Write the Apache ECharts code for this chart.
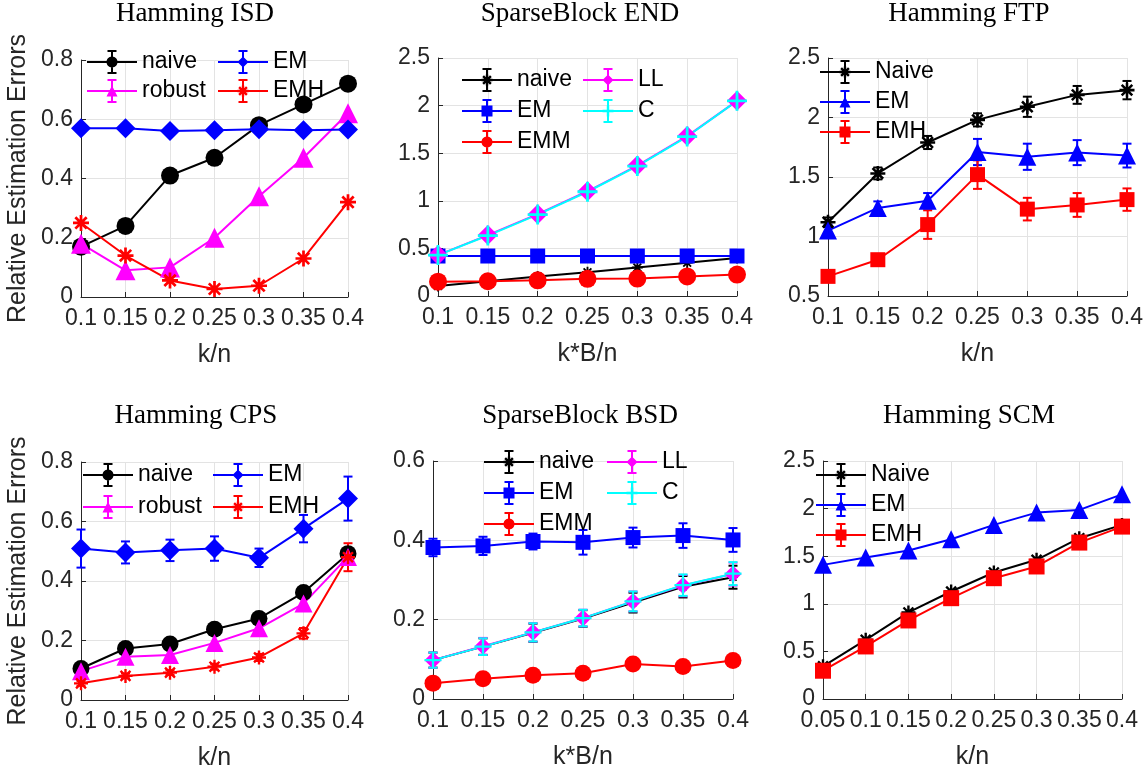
<!DOCTYPE html>
<html>
<head>
<meta charset="utf-8">
<script src="https://cdn.jsdelivr.net/npm/echarts@6/dist/echarts.min.js"></script>
<style>html,body{margin:0;padding:0;background:#fff}#c{width:1148px;height:772px}</style>
</head>
<body>
<div id="c"></div>
<script>
// ---------- data ----------
const kn7 = ['0.1', '0.15', '0.2', '0.25', '0.3', '0.35', '0.4'];
const kn8 = ['0.05', '0.1', '0.15', '0.2', '0.25', '0.3', '0.35', '0.4'];

// Hamming ISD
const isdNaive  = [0.17, 0.24, 0.41, 0.47, 0.58, 0.65, 0.72];
const isdRobust = [0.18, 0.09, 0.10, 0.20, 0.34, 0.47, 0.62];
const isdEM     = [0.57, 0.57, 0.56, 0.563, 0.566, 0.563, 0.565];
const isdEMH    = [0.25, 0.14, 0.056, 0.027, 0.038, 0.13, 0.32];

// SparseBlock END
const endNaive = [0.105, 0.155, 0.205, 0.25, 0.30, 0.35, 0.40];
const endEM    = [0.42, 0.42, 0.42, 0.42, 0.42, 0.42, 0.42];
const endEMM   = [0.15, 0.155, 0.165, 0.18, 0.183, 0.205, 0.225];
const endLL    = [0.43, 0.64, 0.86, 1.10, 1.37, 1.68, 2.05];
const endC     = [0.43, 0.635, 0.855, 1.095, 1.365, 1.675, 2.05];

// Hamming FTP
const ftpNaive    = [1.12, 1.53, 1.79, 1.98, 2.09, 2.19, 2.23];
const ftpNaiveErr = [0.04, 0.05, 0.055, 0.055, 0.085, 0.075, 0.077];
const ftpEM       = [1.05, 1.24, 1.30, 1.71, 1.67, 1.705, 1.68];
const ftpEMErr    = [0.05, 0.055, 0.065, 0.11, 0.11, 0.105, 0.10];
const ftpEMH      = [0.665, 0.805, 1.10, 1.52, 1.23, 1.265, 1.31];
const ftpEMHErr   = [0.03, 0.03, 0.12, 0.12, 0.095, 0.10, 0.094];

// Hamming CPS
const cpsNaive  = [0.106, 0.173, 0.188, 0.238, 0.274, 0.361, 0.492];
const cpsRobust = [0.097, 0.145, 0.151, 0.192, 0.241, 0.324, 0.481];
const cpsEM     = [0.509, 0.496, 0.503, 0.509, 0.478, 0.576, 0.677];
const cpsEMErr  = [0.064, 0.037, 0.036, 0.041, 0.031, 0.046, 0.074];
const cpsEMH    = [0.056, 0.081, 0.092, 0.112, 0.143, 0.224, 0.48];
const cpsEMHErr = [0.008, 0.008, 0.008, 0.01, 0.012, 0.018, 0.047];

// SparseBlock BSD
const bsdNaive    = [0.098, 0.132, 0.167, 0.203, 0.243, 0.283, 0.307];
const bsdNaiveErr = [0.019, 0.021, 0.023, 0.021, 0.025, 0.027, 0.029];
const bsdEM       = [0.382, 0.386, 0.397, 0.395, 0.407, 0.412, 0.401];
const bsdEMErr    = [0.022, 0.023, 0.02, 0.031, 0.025, 0.031, 0.03];
const bsdEMM      = [0.040, 0.051, 0.060, 0.065, 0.088, 0.082, 0.097];
const bsdLL       = [0.098, 0.133, 0.168, 0.204, 0.246, 0.286, 0.315];
const bsdLLErr    = [0.019, 0.021, 0.023, 0.021, 0.025, 0.027, 0.029];
const bsdC        = [0.098, 0.132, 0.168, 0.204, 0.246, 0.287, 0.316];
const bsdCErr     = [0.019, 0.021, 0.023, 0.021, 0.025, 0.027, 0.029];

// Hamming SCM
const scmNaive = [0.343, 0.622, 0.909, 1.129, 1.329, 1.462, 1.689, 1.829];
const scmEM    = [1.409, 1.486, 1.559, 1.678, 1.829, 1.958, 1.986, 2.150];
const scmEMH   = [0.297, 0.552, 0.825, 1.059, 1.269, 1.392, 1.643, 1.811];

// ---------- styling helpers ----------
const SANS = "'Liberation Sans', Arial, Helvetica, sans-serif";
const SERIF = "'Liberation Serif', 'Times New Roman', serif";
const AX = '#262626';
const GRIDC = '#e3e3e3';
const BLACK = '#000000', BLUE = '#0000ff', RED = '#ff0000', MAG = '#ff00ff', CYAN = '#00ffff';

function poly(pts) {
  let a = 0;
  for (let i = 0; i < pts.length; i++) {
    const p = pts[i], q = pts[(i + 1) % pts.length];
    a += p[0] * q[1] - q[0] * p[1];
  }
  if (a < 0) pts = pts.slice().reverse();
  return 'M' + pts.map(p => p[0].toFixed(3) + ' ' + p[1].toFixed(3)).join('L') + 'Z';
}
function rect(x0, y0, x1, y1) { return poly([[x0, y0], [x1, y0], [x1, y1], [x0, y1]]); }
function bar(cx, cy, half, t, ang) {
  const ux = Math.cos(ang), uy = Math.sin(ang), nx = -uy, ny = ux;
  const p1 = [cx - half * ux, cy - half * uy], p2 = [cx + half * ux, cy + half * uy];
  return poly([[p1[0] - t * nx, p1[1] - t * ny], [p2[0] - t * nx, p2[1] - t * ny],
               [p2[0] + t * nx, p2[1] + t * ny], [p1[0] + t * nx, p1[1] + t * ny]]);
}
function shape(kind, cx, cy, s, t) {
  const h = s / 2;
  switch (kind) {
    case 'circle': {
      const pts = [];
      for (let i = 0; i < 28; i++) { const a = i / 28 * Math.PI * 2; pts.push([cx + h * Math.cos(a), cy + h * Math.sin(a)]); }
      return poly(pts);
    }
    case 'diamond': return poly([[cx, cy - h], [cx + h, cy], [cx, cy + h], [cx - h, cy]]);
    case 'triangle': return poly([[cx, cy - h], [cx + h, cy + h], [cx - h, cy + h]]);
    case 'square': return rect(cx - h, cy - h, cx + h, cy + h);
    case 'plus': return bar(cx, cy, h, t, 0) + bar(cx, cy, h, t, Math.PI / 2);
    case 'star': return bar(cx, cy, h, t, 0) + bar(cx, cy, h, t, Math.PI / 2) +
                        bar(cx, cy, h, t, Math.PI / 4) + bar(cx, cy, h, t, 3 * Math.PI / 4);
  }
}
function markerSym(kind) {
  if (kind === 'circle' || kind === 'diamond' || kind === 'triangle') return kind;
  if (kind === 'square') return 'rect';
  return 'path://' + shape(kind, 10, 10, 20, kind === 'star' ? 1.7 : 1.4);
}
function legendIcon(kind, ms) {
  const p = rect(0, 11, 50, 13) + rect(24, 0, 26, 24) + rect(20.5, 0, 29.5, 2) + rect(20.5, 22, 29.5, 24) +
            shape(kind, 25, 12, ms || 10, 1.2);
  return 'path://' + p;
}

// ---------- panels ----------
const panels = [
  { title: 'Hamming ISD', tx: 195, ty: 14, grid: { left: 81, top: 60, width: 267, height: 237 },
    cats: kn7, xname: 'k/n', yname: 'Relative Estimation Errors', min: 0, max: 0.8, step: 0.2,
    series: [
      { n: 'naive', d: isdNaive, c: BLACK, m: 'circle', s: 18 },
      { n: 'robust', d: isdRobust, c: MAG, m: 'triangle', s: 20 },
      { n: 'EM', d: isdEM, c: BLUE, m: 'diamond', s: 20 },
      { n: 'EMH', d: isdEMH, c: RED, m: 'star', s: 16 }],
    legends: [{ left: 87, top: 50, gap: 5, items: ['naive', 'robust'] }, { left: 218, top: 50, gap: 5, items: ['EM', 'EMH'] }] },
  { title: 'SparseBlock END', tx: 580, ty: 14, grid: { left: 438, top: 58, width: 299, height: 238 },
    cats: kn7, xname: 'k*B/n', min: 0, max: 2.5, step: 0.5,
    series: [
      { n: 'naive', d: endNaive, c: BLACK, m: 'star', s: 11 },
      { n: 'EM', d: endEM, c: BLUE, m: 'square', s: 15 },
      { n: 'EMM', d: endEMM, c: RED, m: 'circle', s: 18 },
      { n: 'LL', d: endLL, c: MAG, m: 'diamond', s: 20 },
      { n: 'C', d: endC, c: CYAN, m: 'plus', s: 20 }],
    legends: [{ left: 462, top: 68, gap: 7, items: ['naive', 'EM', 'EMM'] }, { left: 583, top: 68, gap: 7, items: ['LL', 'C'] }] },
  { title: 'Hamming FTP', tx: 969, ty: 14, grid: { left: 828, top: 58, width: 299, height: 238 },
    cats: kn7, xname: 'k/n', min: 0.5, max: 2.5, step: 0.5,
    series: [
      { n: 'Naive', d: ftpNaive, e: ftpNaiveErr, c: BLACK, m: 'star', s: 15 },
      { n: 'EM', d: ftpEM, e: ftpEMErr, c: BLUE, m: 'triangle', s: 18 },
      { n: 'EMH', d: ftpEMH, e: ftpEMHErr, c: RED, m: 'square', s: 15 }],
    legends: [{ left: 820, top: 60, gap: 6, items: ['Naive', 'EM', 'EMH'] }] },
  { title: 'Hamming CPS', tx: 196, ty: 416, grid: { left: 81, top: 462, width: 267, height: 238 },
    cats: kn7, xname: 'k/n', yname: 'Relative Estimation Errors', min: 0, max: 0.8, step: 0.2,
    series: [
      { n: 'naive', d: cpsNaive, c: BLACK, m: 'circle', s: 17 },
      { n: 'robust', d: cpsRobust, c: MAG, m: 'triangle', s: 18 },
      { n: 'EM', d: cpsEM, e: cpsEMErr, c: BLUE, m: 'diamond', s: 20 },
      { n: 'EMH', d: cpsEMH, e: cpsEMHErr, c: RED, m: 'star', s: 14 }],
    legends: [{ left: 83, top: 463, gap: 8, items: ['naive', 'robust'] }, { left: 213, top: 463, gap: 8, items: ['EM', 'EMH'] }] },
  { title: 'SparseBlock BSD', tx: 580, ty: 416, grid: { left: 433, top: 461, width: 300, height: 238 },
    cats: kn7, xname: 'k*B/n', min: 0, max: 0.6, step: 0.2,
    series: [
      { n: 'naive', d: bsdNaive, e: bsdNaiveErr, c: BLACK, m: 'star', s: 10 },
      { n: 'EM', d: bsdEM, e: bsdEMErr, c: BLUE, m: 'square', s: 15 },
      { n: 'EMM', d: bsdEMM, c: RED, m: 'circle', s: 17 },
      { n: 'LL', d: bsdLL, e: bsdLLErr, c: MAG, m: 'diamond', s: 17 },
      { n: 'C', d: bsdC, e: bsdCErr, c: CYAN, m: 'plus', s: 17 }],
    legends: [{ left: 484, top: 450, gap: 7, items: ['naive', 'EM', 'EMM'] }, { left: 607, top: 450, gap: 7, items: ['LL', 'C'] }] },
  { title: 'Hamming SCM', tx: 969, ty: 416, grid: { left: 823, top: 461, width: 299, height: 238 },
    cats: kn8, xname: 'k/n', min: 0, max: 2.5, step: 0.5,
    series: [
      { n: 'Naive', d: scmNaive, c: BLACK, m: 'star', s: 14 },
      { n: 'EM', d: scmEM, c: BLUE, m: 'triangle', s: 18 },
      { n: 'EMH', d: scmEMH, c: RED, m: 'square', s: 16 }],
    legends: [{ left: 816, top: 463, gap: 6, items: ['Naive', 'EM', 'EMH'] }] }
];

function errRender(params, api) {
  const x = api.value(0), v = api.value(1), e = api.value(2);
  const lo = api.coord([x, v - e]), hi = api.coord([x, v + e]);
  const w = 4.5;
  const style = { stroke: api.visual('color'), lineWidth: 2, fill: null };
  return { type: 'group', children: [
    { type: 'line', shape: { x1: lo[0], y1: lo[1], x2: hi[0], y2: hi[1] }, style },
    { type: 'line', shape: { x1: lo[0] - w, y1: lo[1], x2: lo[0] + w, y2: lo[1] }, style },
    { type: 'line', shape: { x1: hi[0] - w, y1: hi[1], x2: hi[0] + w, y2: hi[1] }, style }
  ] };
}

const grids = [], xAxes = [], yAxes = [], series = [], legends = [], graphics = [];
panels.forEach((p, i) => {
  grids.push(Object.assign({ containLabel: false }, p.grid));
  xAxes.push({
    type: 'category', gridIndex: i, data: p.cats, boundaryGap: false,
    name: p.xname, nameLocation: 'middle', nameGap: 46,
    nameTextStyle: { fontSize: 25, color: AX, fontFamily: SANS },
    axisLine: { show: true, onZero: false, lineStyle: { color: AX, width: 1 } },
    axisTick: { show: true, inside: true, length: 5, alignWithLabel: true, lineStyle: { color: AX } },
    axisLabel: { interval: 0, fontSize: 23, color: AX, fontFamily: SANS, margin: 10 },
    splitLine: { show: true, interval: 0, lineStyle: { color: GRIDC, width: 1 } }
  });
  yAxes.push({
    type: 'value', gridIndex: i, min: p.min, max: p.max, interval: p.step,
    name: p.yname || '', nameLocation: 'middle', nameGap: 50,
    nameTextStyle: { fontSize: 25, color: AX, fontFamily: SANS },
    axisLine: { show: true, onZero: false, lineStyle: { color: AX, width: 1 } },
    axisTick: { show: true, inside: true, length: 5, lineStyle: { color: AX } },
    axisLabel: { fontSize: 23, color: AX, fontFamily: SANS, margin: 8 },
    splitLine: { show: true, lineStyle: { color: GRIDC, width: 1 } }
  });
  const byName = {};
  p.series.forEach(s => {
    const id = 'P' + i + '|' + s.n;
    byName[s.n] = s;
    series.push({
      type: 'line', name: id, xAxisIndex: i, yAxisIndex: i, data: s.d,
      symbol: markerSym(s.m), symbolSize: s.s, showSymbol: true, showAllSymbol: true,
      lineStyle: { color: s.c, width: 2 }, itemStyle: { color: s.c, borderWidth: 0 },
      emphasis: { disabled: true }, animation: false, z: 3
    });
    if (s.e) {
      series.push({
        type: 'custom', name: id, xAxisIndex: i, yAxisIndex: i,
        data: s.d.map((v, k) => [k, v, s.e[k]]), encode: { x: 0, y: 1 },
        renderItem: errRender, itemStyle: { color: s.c }, animation: false, z: 3, silent: true
      });
    }
  });
  p.legends.forEach(L => {
    legends.push({
      left: L.left, top: L.top, orient: 'vertical', padding: 0,
      itemWidth: 50, itemHeight: 24, itemGap: L.gap, selectedMode: false,
      formatter: n => n.split('|')[1],
      textStyle: { fontSize: 23, color: '#000', fontFamily: SANS },
      itemStyle: { borderWidth: 0 },
      data: L.items.map(n => ({
        name: 'P' + i + '|' + n,
        icon: legendIcon(byName[n].m, byName[n].m === 'star' || byName[n].m === 'plus' ? 11 : 11),
        itemStyle: { color: byName[n].c, borderWidth: 0 }
      }))
    });
  });
  graphics.push({
    type: 'text', x: p.tx, y: p.ty, silent: true,
    style: { text: p.title, fontSize: 27, fontFamily: SERIF, fill: '#000', align: 'center', verticalAlign: 'middle' }
  });
});

const chart = echarts.init(document.getElementById('c'), null, { renderer: 'canvas' });
chart.setOption({
  animation: false,
  backgroundColor: '#ffffff',
  grid: grids, xAxis: xAxes, yAxis: yAxes, series: series, legend: legends,
  graphic: graphics, tooltip: { show: false }
});
</script>
</body>
</html>
